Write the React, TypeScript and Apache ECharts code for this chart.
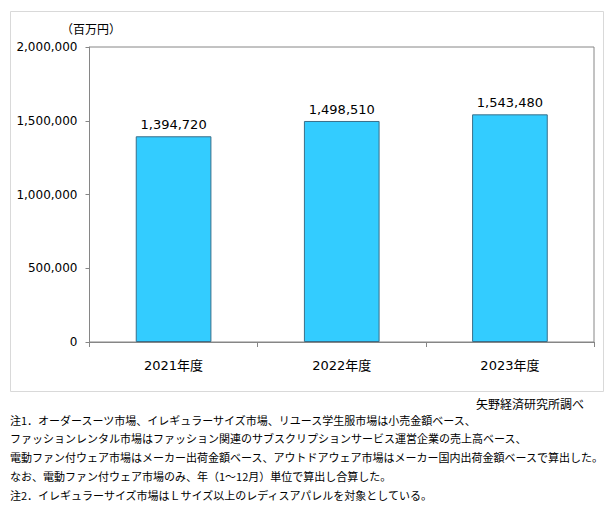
import React, { useEffect, useRef } from "react";
import * as echarts from "echarts";

const categories = ["2021年度", "2022年度", "2023年度"];
const values = [1394720, 1498510, 1543480];
const yMin = 0;
const yMax = 2000000;
const yInterval = 500000;
const unitLabel = "（百万円）";
const sourceText = "矢野経済研究所調べ";
const notes = [
  "注1．オーダースーツ市場、イレギュラーサイズ市場、リユース学生服市場は小売金額ベース、",
  "ファッションレンタル市場はファッション関連のサブスクリプションサービス運営企業の売上高ベース、",
  "電動ファン付ウェア市場はメーカー出荷金額ベース、アウトドアウェア市場はメーカー国内出荷金額ベースで算出した。",
  "なお、電動ファン付ウェア市場のみ、年（1～12月）単位で算出し合算した。",
  "注2．イレギュラーサイズ市場はＬサイズ以上のレディスアパレルを対象としている。",
];

const fmt = (v: number) => v.toLocaleString("en-US");
const NUM_FONT = "'DejaVu Sans', Verdana, sans-serif";
const JP_FONT = "'Noto Sans CJK JP', sans-serif";

export default function App() {
  const ref = useRef<HTMLDivElement>(null);
  useEffect(() => {
    if (!ref.current) return;
    const chart = echarts.init(ref.current, undefined, { renderer: "svg" });
    const noteGraphics = notes.map((t, i) => ({
      type: "text",
      left: 10,
      top: 414 + i * 18.8,
      style: { text: t, font: `11px ${JP_FONT}`, fill: "#000" },
    }));
    chart.setOption({
      animation: false,
      backgroundColor: "#fff",
      grid: {
        left: 89.5,
        right: 16,
        top: 47,
        bottom: 188,
        show: true,
        borderColor: "#868686",
        borderWidth: 1,
        backgroundColor: "transparent",
      },
      xAxis: {
        type: "category",
        data: categories,
        axisLine: { lineStyle: { color: "#868686" } },
        axisTick: { show: true, length: 5, lineStyle: { color: "#868686" } },
        axisLabel: {
          color: "#000",
          fontSize: 13,
          fontFamily: `'DejaVu Sans', 'Noto Sans CJK JP', sans-serif`,
          margin: 17,
        },
      },
      yAxis: {
        type: "value",
        min: yMin,
        max: yMax,
        interval: yInterval,
        axisLine: { show: true, lineStyle: { color: "#868686" } },
        axisTick: { show: true, length: 4, lineStyle: { color: "#868686" } },
        splitLine: { show: false },
        axisLabel: {
          color: "#000",
          fontSize: 12,
          fontFamily: NUM_FONT,
          margin: 12,
          formatter: (v: number) => fmt(v),
        },
      },
      series: [
        {
          type: "bar",
          data: values,
          barWidth: "45%",
          itemStyle: { color: "#33CCFF", borderColor: "#3a6f8a", borderWidth: 1 },
          label: {
            show: true,
            position: "top",
            distance: 5,
            color: "#000",
            fontSize: 13,
            fontFamily: NUM_FONT,
            formatter: (p: any) => fmt(p.value),
          },
        },
      ],
      graphic: [
        {
          type: "rect",
          shape: { x: 10.5, y: 11.5, width: 593, height: 380 },
          style: { fill: "none", stroke: "#d9d9d9", lineWidth: 1 },
          z: -1,
        },
        {
          type: "text",
          x: 91,
          y: 28,
          style: {
            text: unitLabel,
            font: `12px ${JP_FONT}`,
            fill: "#000",
            textAlign: "center",
            textVerticalAlign: "middle",
          },
        },
        {
          type: "text",
          x: 584,
          y: 403,
          style: {
            text: sourceText,
            font: `12px ${JP_FONT}`,
            fill: "#000",
            textAlign: "right",
            textVerticalAlign: "middle",
          },
        },
        ...noteGraphics,
      ],
    });
    return () => chart.dispose();
  }, []);
  return <div ref={ref} style={{ width: 610, height: 530, position: "absolute", left: 0, top: 0 }} />;
}
